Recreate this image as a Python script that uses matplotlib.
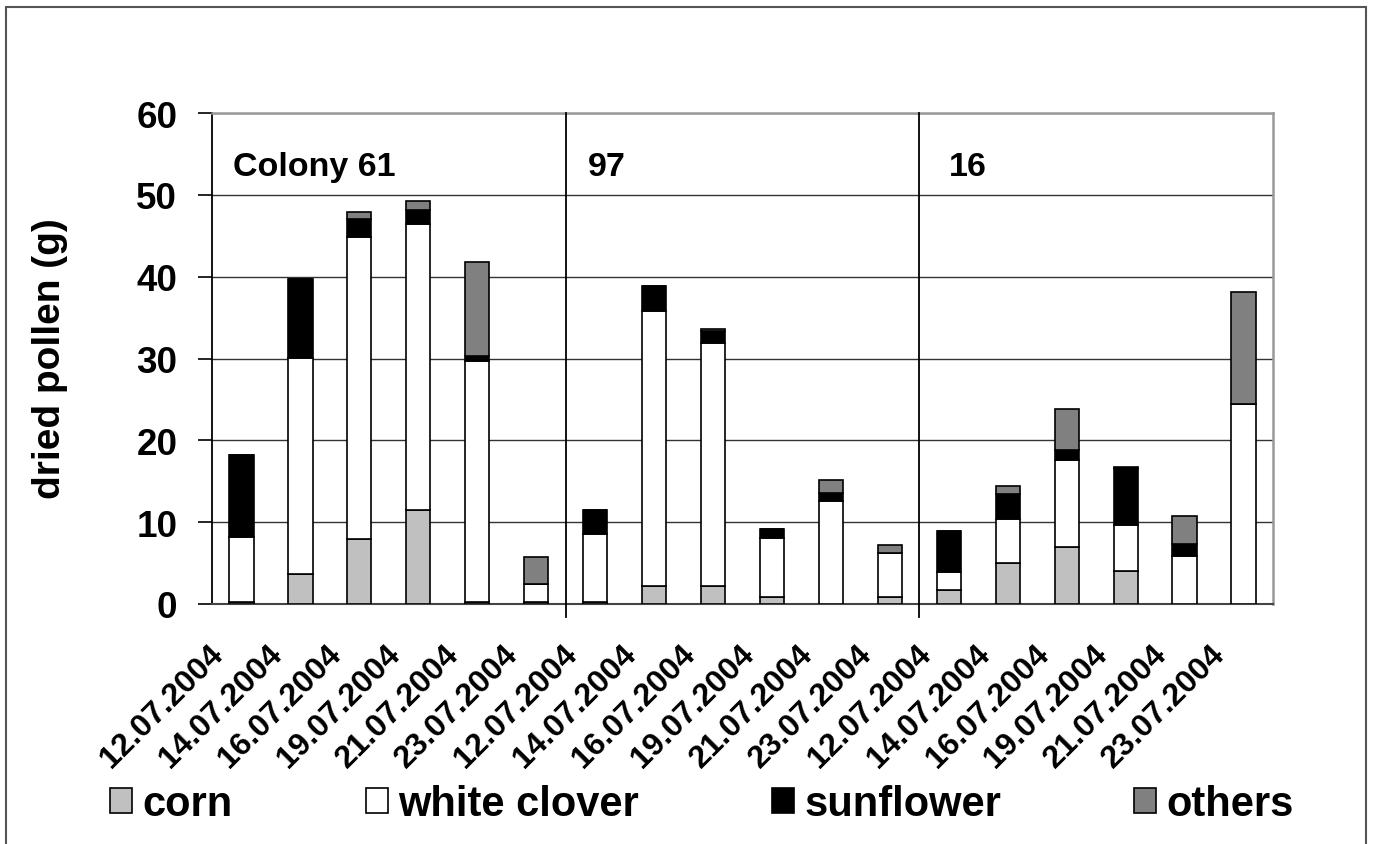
import matplotlib
matplotlib.use("Agg")
import matplotlib.pyplot as plt
from matplotlib.patches import Rectangle, Patch
from matplotlib.transforms import ScaledTranslation
import numpy as np

plt.rcParams['font.family'] = ['Liberation Sans', 'DejaVu Sans']
plt.rcParams['font.weight'] = 'bold'

dates = ['12.07.2004', '14.07.2004', '16.07.2004', '19.07.2004', '21.07.2004', '23.07.2004'] * 3
colonies = ['Colony 61', '97', '16']
series_names = ['corn', 'white clover', 'sunflower', 'others']
corn = [0.2, 3.7, 8.0, 11.5, 0.2, 0.2,
        0.2, 2.2, 2.2, 0.9, 0.0, 0.9,
        1.7, 5.0, 7.0, 4.0, 0.0, 0.0]
clover = [8.0, 26.4, 36.8, 34.9, 29.5, 2.3,
          8.4, 33.6, 29.7, 7.2, 12.6, 5.3,
          2.2, 5.4, 10.6, 5.6, 5.9, 24.4]
sunflower = [10.0, 9.6, 2.3, 1.8, 0.6, 0.0,
             2.9, 3.1, 1.5, 1.1, 1.0, 0.0,
             5.0, 3.0, 1.2, 7.0, 1.4, 0.0]
others = [0.0, 0.0, 0.8, 1.1, 11.5, 3.2,
          0.0, 0.0, 0.2, 0.0, 1.6, 1.0,
          0.0, 1.0, 5.0, 0.2, 3.4, 13.7]

colors = ['#C0C0C0', '#FFFFFF', '#000000', '#808080']

W, H = 1373, 845
fig = plt.figure(figsize=(W / 100, H / 100), dpi=100)
ax = fig.add_axes([212 / W, 1 - 605 / H, 1061 / W, 491 / H])

x = np.arange(len(dates))
bottom = np.zeros(len(dates))
for vals, col, name in zip([corn, clover, sunflower, others], colors, series_names):
    v = np.array(vals)
    ax.bar(x, v, width=0.41, bottom=bottom, color=col, edgecolor='black',
           linewidth=1.2, label=name, zorder=3)
    bottom += v

ax.set_xlim(-0.5, len(dates) - 0.5)
ax.set_ylim(0, 60)
ax.set_yticks(np.arange(0, 61, 10))
ax.yaxis.grid(True, color='#333333', linewidth=1.0)
ax.set_axisbelow(True)

ax.tick_params(axis='y', direction='out', length=10, width=1.2, pad=15,
               labelsize=26.5, colors='black')
for lab in ax.get_yticklabels():
    lab.set_fontweight('bold')

ax.set_xticks(x)
ax.set_xticklabels(dates, rotation=45, ha='right', va='top',
                   fontsize=23, fontweight='bold')
ax.tick_params(axis='x', length=0, pad=25)
off = ScaledTranslation(-0.12, 0, fig.dpi_scale_trans)
for lab in ax.get_xticklabels():
    lab.set_transform(lab.get_transform() + off)

for s in ['top', 'right']:
    ax.spines[s].set_color('#999999')
    ax.spines[s].set_linewidth(1.8)
ax.spines['left'].set_color('black')
ax.spines['left'].set_linewidth(1.3)
ax.spines['bottom'].set_color('#444444')
ax.spines['bottom'].set_linewidth(1.5)

# group separators
for sep in [5.5, 11.5]:
    ax.axvline(sep, ymin=-13 / 491, ymax=1, color='black', linewidth=1.3,
               clip_on=False, zorder=4)

# colony labels
label_x = [-0.14, 5.88, 12.0]
for lx, name in zip(label_x, colonies):
    ax.text(lx, 53.5, name, fontsize=24.5, fontweight='bold', ha='left', va='center')

fig.text(50 / W, 1 - 359 / H, 'dried pollen (g)', rotation=90, ha='center',
         va='center', fontsize=28, fontweight='bold')

handles = [Patch(facecolor=c, edgecolor='black', linewidth=1.2) for c in colors]
fig.legend(handles, series_names, loc='center', bbox_to_anchor=(702 / W, 1 - 805 / H),
           ncol=4, frameon=False, prop={'size': 30, 'weight': 'bold'},
           handlelength=0.53, handleheight=0.53, handletextpad=0.24,
           columnspacing=3.2)

# outer frame
fig.patches.append(Rectangle((6 / W, -0.02), 1360 / W, 1 - 8 / H + 0.02,
                             transform=fig.transFigure, fill=False,
                             edgecolor='#555555', linewidth=1.5))

fig.savefig('out.png', dpi=100)
